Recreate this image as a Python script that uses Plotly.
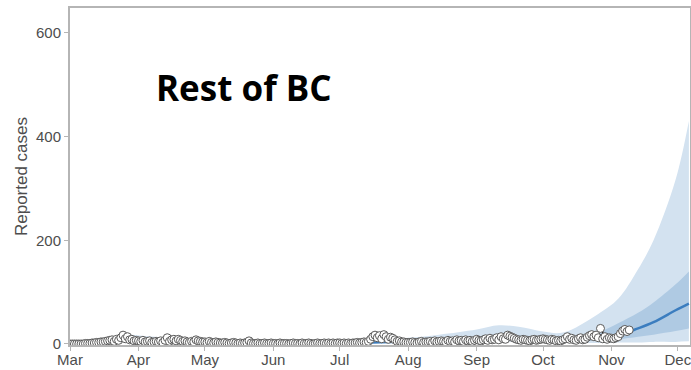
"""Rest of BC — reported cases with model projection."""

import pandas as pd
import plotly.graph_objects as go

# ── Observed daily reported cases ─────────────────────────────────────────────
cases_mar = [0, 0, 0, 0, 0, 0, 0, 1, 1, 1, 2, 2, 3, 3, 4, 4, 5, 6, 7, 8, 5, 9,
             7, 12, 17, 10, 14, 8, 9, 6, 7]
cases_apr = [6, 5, 7, 4, 5, 6, 3, 4, 5, 4, 6, 3, 7, 12, 5, 8, 9, 6, 9, 7, 5, 6,
             4, 3, 5, 4, 8, 6, 5, 4]
cases_may = [4, 3, 5, 3, 2, 4, 3, 2, 2, 3, 2, 1, 2, 3, 2, 1, 2, 1, 2, 3, 6, 2,
             1, 1, 2, 1, 1, 2, 1, 1, 2]
cases_jun = [1, 1, 0, 2, 1, 1, 1, 0, 1, 2, 1, 1, 0, 2, 1, 1, 2, 1, 0, 1, 2, 1,
             1, 2, 1, 2, 1, 2, 1, 2]
cases_jul = [2, 1, 2, 1, 2, 1, 2, 2, 3, 2, 3, 4, 3, 5, 9, 14, 17, 12, 16, 10,
             18, 14, 9, 13, 11, 8, 5, 6, 4, 4, 3]
cases_aug = [3, 3, 4, 3, 2, 4, 5, 3, 4, 4, 5, 3, 6, 4, 5, 6, 5, 4, 7, 5, 6, 4,
             8, 6, 7, 5, 8, 6, 7, 5, 7]
cases_sep = [9, 7, 6, 8, 10, 7, 11, 8, 9, 12, 8, 14, 10, 9, 17, 15, 13, 11, 9,
             8, 7, 9, 8, 7, 6, 8, 9, 7, 8, 9]
cases_oct = [10, 9, 8, 7, 9, 8, 6, 7, 6, 8, 10, 14, 9, 11, 8, 7, 10, 12, 8, 9,
             13, 16, 18, 14, 17, 12, 30, 10, 14, 9, 12]
cases_nov = [11, 10, 12, 14, 20, 25, 28, 24, 27]

cases = (cases_mar + cases_apr + cases_may + cases_jun + cases_jul
         + cases_aug + cases_sep + cases_oct + cases_nov)
case_dates = pd.date_range("2020-03-01", periods=len(cases), freq="D")

# flagged day (vertical segment under the point)
flag_date = "2020-10-28"
flag_top = 30
flag_bottom = 12

# ── Model fit / projection ────────────────────────────────────────────────────
fit_dates = ["2020-03-01", "2020-03-15", "2020-03-25", "2020-04-05",
             "2020-04-20", "2020-05-05", "2020-05-20", "2020-06-10",
             "2020-07-01", "2020-07-15", "2020-08-01", "2020-08-15",
             "2020-09-01", "2020-09-11", "2020-09-20", "2020-10-01",
             "2020-10-10", "2020-10-26", "2020-11-04", "2020-11-13",
             "2020-11-20", "2020-11-30", "2020-12-06"]
fit_median = [1, 4, 10, 8, 5, 3, 2, 1, 2, 3, 5, 6, 8, 11, 10, 9, 9, 12, 17,
              30, 42, 65, 78]
fit_lo50 = [0, 3, 7, 5, 3, 2, 1, 1, 1, 2, 3, 4, 5, 7, 6, 6, 6, 6, 9, 14, 18,
            25, 30]
fit_hi50 = [1, 6, 14, 11, 7, 4, 3, 2, 3, 5, 7, 10, 14, 19, 17, 14, 14, 23, 40,
            60, 80, 115, 140]
fit_lo90 = [0, 1, 4, 3, 2, 1, 0, 0, 0, 1, 2, 2, 3, 4, 4, 3, 3, 2, 3, 3, 4, 4,
            5]
fit_hi90 = [2, 8, 18, 15, 10, 7, 5, 4, 5, 8, 12, 18, 28, 36, 33, 24, 22, 58,
            87, 144, 200, 317, 430]

_C_OUTER = "#d3e2f0"
_C_INNER = "#afcae3"
_C_LINE = "#3b7dbf"
_C_AXIS = "#b5b5b5"
_C_TEXT = "#4d4d4d"

fig = go.Figure()

fig.add_trace(go.Scatter(x=fit_dates, y=fit_lo90, mode="lines",
                         line=dict(width=0, shape="spline"), hoverinfo="skip"))
fig.add_trace(go.Scatter(x=fit_dates, y=fit_hi90, mode="lines", fill="tonexty",
                         fillcolor=_C_OUTER, line=dict(width=0, shape="spline"),
                         hoverinfo="skip"))
fig.add_trace(go.Scatter(x=fit_dates, y=fit_lo50, mode="lines",
                         line=dict(width=0, shape="spline"), hoverinfo="skip"))
fig.add_trace(go.Scatter(x=fit_dates, y=fit_hi50, mode="lines", fill="tonexty",
                         fillcolor=_C_INNER, line=dict(width=0, shape="spline"),
                         hoverinfo="skip"))
fig.add_trace(go.Scatter(x=fit_dates, y=fit_median, mode="lines",
                         line=dict(color=_C_LINE, width=2.5, shape="spline")))

fig.add_trace(go.Scatter(x=[flag_date, flag_date], y=[flag_bottom, flag_top],
                         mode="lines", line=dict(color="black", width=1.5)))

fig.add_trace(go.Scatter(
    x=case_dates, y=cases, mode="markers",
    marker=dict(color="white", size=8, line=dict(color="#5a5a5a", width=1)),
))

fig.add_annotation(
    text="<b>Rest of BC</b>", xref="paper", yref="paper", x=0.135, y=0.765,
    xanchor="left", yanchor="middle", showarrow=False,
    font=dict(family="Open Sans", size=35, color="black"),
)

_axis_common = dict(
    showline=True, linecolor=_C_AXIS, linewidth=2, mirror=True,
    showgrid=False, zeroline=False, ticks="outside", ticklen=4,
    tickcolor=_C_AXIS, tickfont=dict(size=15, color=_C_TEXT),
    automargin=False, ticklabeloverflow="allow",
)

fig.update_layout(
    width=691, height=370,
    template="plotly_white",
    showlegend=False,
    font=dict(family="Liberation Sans, Arial, sans-serif", color=_C_TEXT),
    margin=dict(l=70, r=1, t=8, b=25),
    plot_bgcolor="white", paper_bgcolor="white",
    xaxis=dict(range=["2020-03-01", "2020-12-06 12:00"], dtick="M1",
               tick0="2020-03-01", tickformat="%b", ticklabelstandoff=-4,
               **_axis_common),
    yaxis=dict(range=[-2, 648], tickvals=[0, 200, 400, 600],
               title=dict(text="Reported cases", font=dict(size=17, color=_C_TEXT),
                          standoff=4),
               **_axis_common),
)

fig.write_html("out.html", config={"displayModeBar": False},
               post_script="document.body.style.margin='0';")
